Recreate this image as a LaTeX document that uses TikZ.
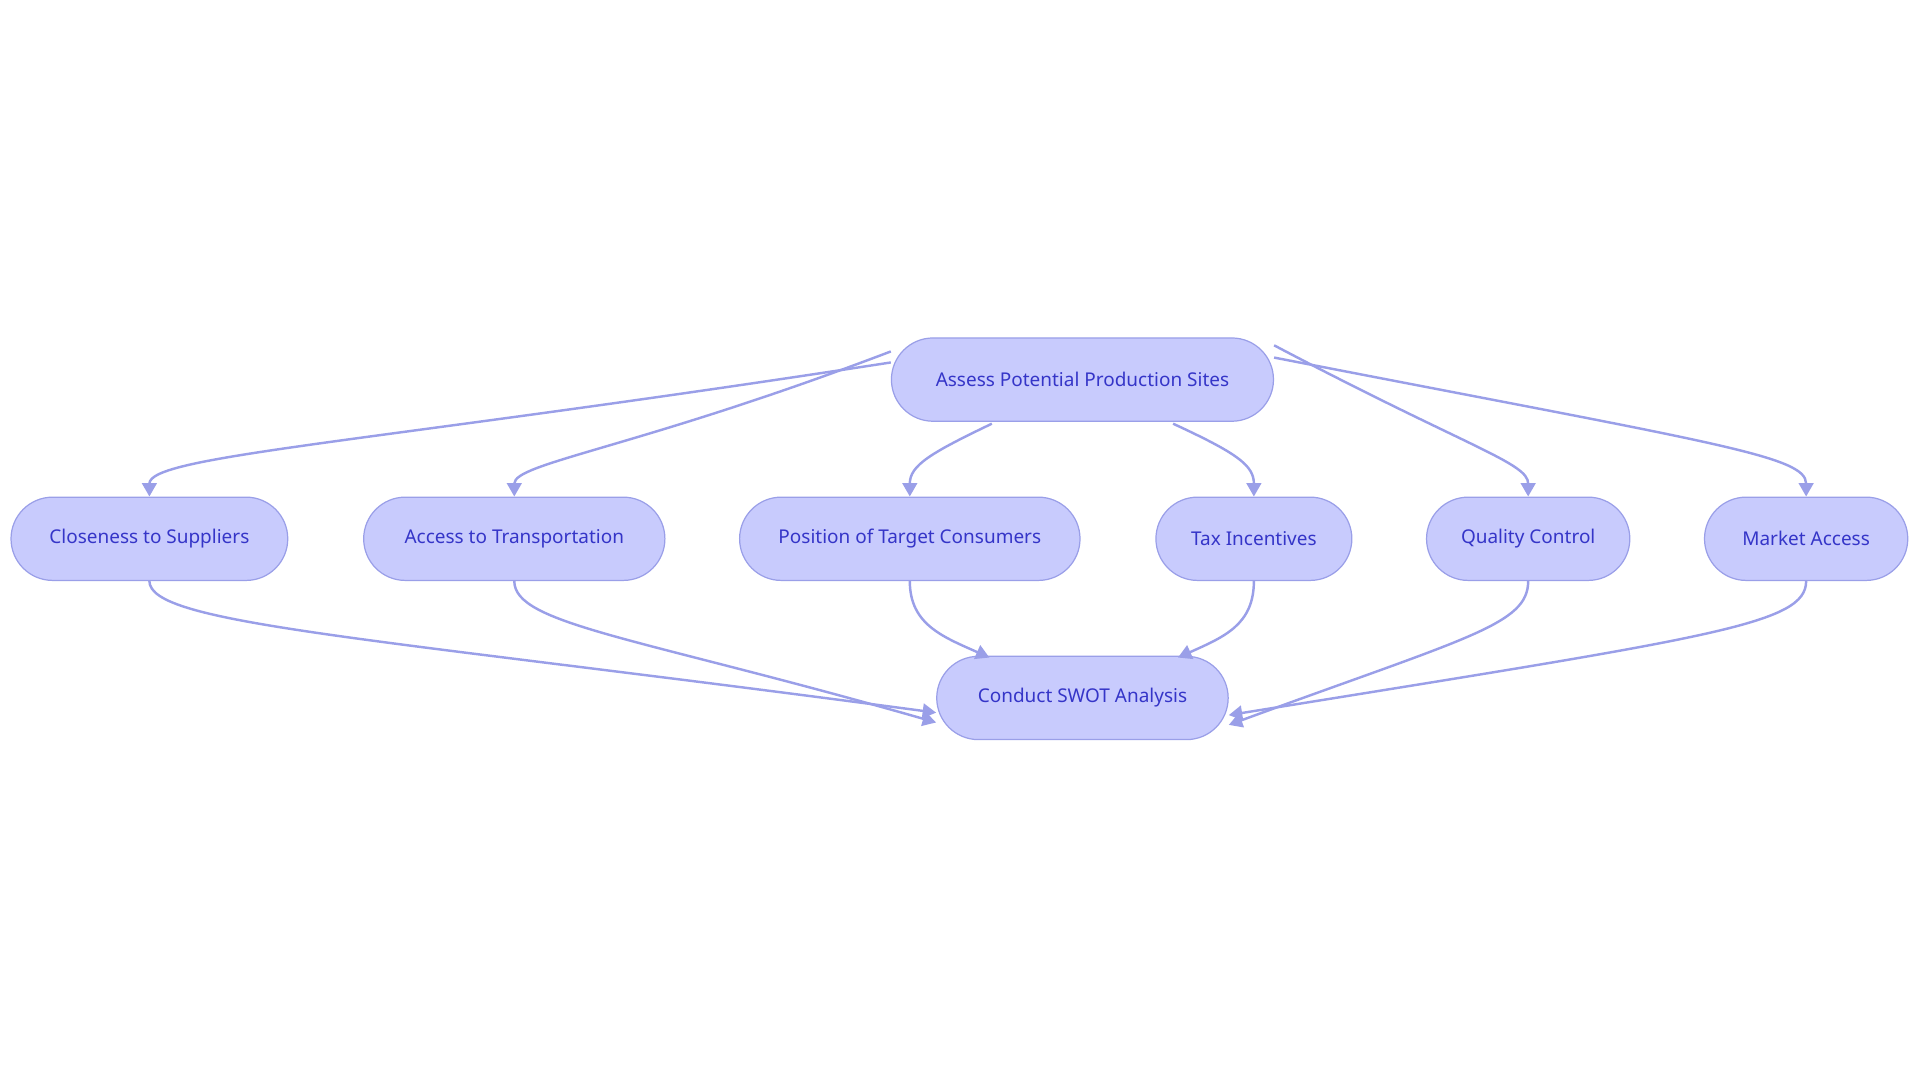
\documentclass[tikz,border=0pt]{standalone}
\usepackage{fontspec}
\setmainfont{Noto Sans}
\usetikzlibrary{arrows.meta}
\definecolor{BoxFill}{HTML}{C8CBFD}
\definecolor{BoxLine}{HTML}{9A9FE8}
\definecolor{BoxText}{HTML}{3535C8}
\tikzset{
  stagebox/.style={draw=BoxLine, fill=BoxFill, rounded corners=34pt, line width=1pt,
    minimum height=68pt, text=BoxText, font=\fontsize{15.5}{18}\selectfont, inner sep=0pt},
  link/.style={draw=BoxLine, line width=2pt, -{Triangle[length=11pt,width=12pt]}}
}
\begin{document}
\begin{tikzpicture}[x=1pt, y=-1pt]
\useasboundingbox (0,0) rectangle (1568,884);

\node[stagebox, minimum width=312pt] (assess) at (884,310) {Assess Potential Production Sites};

\node[stagebox, minimum width=226pt] (close) at (122,440) {Closeness to Suppliers};
\node[stagebox, minimum width=246pt] (trans) at (420,440) {Access to Transportation};
\node[stagebox, minimum width=278pt] (target) at (743,440) {Position of Target Consumers};
\node[stagebox, minimum width=160pt] (tax) at (1024,440) {Tax Incentives};
\node[stagebox, minimum width=166pt] (quality) at (1248,440) {Quality Control};
\node[stagebox, minimum width=166pt] (market) at (1475,440) {Market Access};

\node[stagebox, minimum width=238pt] (swot) at (884,570) {Conduct SWOT Analysis};

% from the assessment to each factor
\draw[link] ([yshift=14pt]assess.west) .. controls (300,362) and (122,372) .. (close.north);
\draw[link] ([yshift=23pt]assess.west) .. controls (520,366) and (420,378) .. (trans.north);
\draw[link] (810,346) .. controls (760,370) and (743,380) .. (target.north);
\draw[link] (958,346) .. controls (1010,370) and (1024,380) .. (tax.north);
\draw[link] ([yshift=28pt]assess.east) .. controls (1200,366) and (1248,378) .. (quality.north);
\draw[link] ([yshift=18pt]assess.east) .. controls (1400,362) and (1475,372) .. (market.north);

% from each factor to the analysis
\draw[link] (close.south) .. controls (122,510) and (300,520) .. ([yshift=-12pt]swot.west);
\draw[link] (trans.south) .. controls (420,510) and (520,520) .. ([yshift=-20pt]swot.west);
\draw[link] (target.south) .. controls (743,510) and (770,520) .. (808,537);
\draw[link] (tax.south) .. controls (1024,510) and (1000,520) .. (962,537);
\draw[link] (quality.south) .. controls (1248,510) and (1200,520) .. ([yshift=-22pt]swot.east);
\draw[link] (market.south) .. controls (1475,510) and (1400,520) .. ([yshift=-14pt]swot.east);
\end{tikzpicture}
\end{document}
